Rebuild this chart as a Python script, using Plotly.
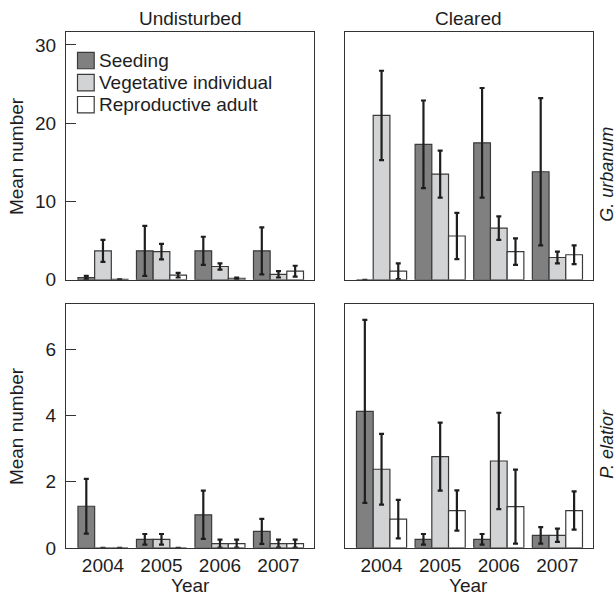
import plotly.graph_objects as go

years = ["2004", "2005", "2006", "2007"]
stages = ["Seeding", "Vegetative individual", "Reproductive adult"]

# G. urbanum, undisturbed
gu_und_seed = [0.3, 3.7, 3.7, 3.7]
gu_und_seed_err = [0.2, 3.2, 1.8, 3.0]
gu_und_veg = [3.7, 3.6, 1.7, 0.7]
gu_und_veg_err = [1.4, 1.0, 0.4, 0.4]
gu_und_rep = [0.05, 0.6, 0.2, 1.1]
gu_und_rep_err = [None, 0.3, 0.1, 0.7]

# G. urbanum, cleared
gu_clr_seed = [0.0, 17.3, 17.5, 13.8]
gu_clr_seed_err = [None, 5.6, 7.0, 9.4]
gu_clr_veg = [21.0, 13.5, 6.6, 2.85]
gu_clr_veg_err = [5.7, 3.0, 1.5, 0.75]
gu_clr_rep = [1.1, 5.6, 3.6, 3.2]
gu_clr_rep_err = [1.0, 2.95, 1.7, 1.2]

# P. elatior, undisturbed
pe_und_seed = [1.26, 0.26, 1.0, 0.5]
pe_und_seed_err = [0.83, 0.16, 0.73, 0.38]
pe_und_veg = [0.0, 0.26, 0.13, 0.13]
pe_und_veg_err = [None, 0.16, 0.12, 0.12]
pe_und_rep = [0.0, 0.0, 0.13, 0.13]
pe_und_rep_err = [None, None, 0.12, 0.12]

# P. elatior, cleared
pe_clr_seed = [4.13, 0.26, 0.26, 0.38]
pe_clr_seed_err = [2.77, 0.16, 0.16, 0.25]
pe_clr_veg = [2.38, 2.76, 2.63, 0.38]
pe_clr_veg_err = [1.07, 1.03, 1.46, 0.2]
pe_clr_rep = [0.87, 1.13, 1.25, 1.13]
pe_clr_rep_err = [0.58, 0.61, 1.12, 0.58]

colors = ["#808080", "#d2d3d5", "#ffffff"]
outline = "#3a3a3a"
ink = "#1e1e1e"
FONT = "Liberation Sans, Arial, sans-serif"
FS = 19

panels = [
    ("x", "y", [gu_und_seed, gu_und_veg, gu_und_rep], [gu_und_seed_err, gu_und_veg_err, gu_und_rep_err]),
    ("x2", "y2", [gu_clr_seed, gu_clr_veg, gu_clr_rep], [gu_clr_seed_err, gu_clr_veg_err, gu_clr_rep_err]),
    ("x3", "y3", [pe_und_seed, pe_und_veg, pe_und_rep], [pe_und_seed_err, pe_und_veg_err, pe_und_rep_err]),
    ("x4", "y4", [pe_clr_seed, pe_clr_veg, pe_clr_rep], [pe_clr_seed_err, pe_clr_veg_err, pe_clr_rep_err]),
]

fig = go.Figure()
for xa, ya, vals, errs in panels:
    for i in range(3):
        fig.add_trace(go.Bar(
            x=years, y=vals[i], name=stages[i], xaxis=xa, yaxis=ya,
            showlegend=False,
            marker=dict(color=colors[i], line=dict(color=outline, width=1.2)),
            error_y=dict(type="data", array=errs[i], visible=True,
                         color=ink, thickness=2.2, width=2.5),
        ))

W, H = 616, 606
def px_x(a, b):
    return [a / W, b / W]
def px_y(top, bot):
    return [1 - bot / H, 1 - top / H]

xr = [-0.632, 3.607]
ax_common = dict(showline=True, mirror=True, linecolor="#333333", linewidth=1.3,
                 showgrid=False, zeroline=False, fixedrange=True)
tickfont = dict(family=FONT, size=FS, color=ink)

layout = dict(
    width=W, height=H, margin=dict(l=0, r=0, t=0, b=0),
    paper_bgcolor="white", plot_bgcolor="white",
    barmode="group", bargap=0.145, bargroupgap=0,
    font=dict(family=FONT, size=FS, color=ink),
    showlegend=False,
)
for n, (xd, yd, show_xt, show_yt) in enumerate([
    (px_x(66, 314), px_y(33, 285), False, True),
    (px_x(344.5, 593), px_y(33, 285), False, False),
    (px_x(66, 314), px_y(310, 558), True, True),
    (px_x(344.5, 593), px_y(310, 558), True, False),
], start=1):
    sx = "" if n == 1 else str(n)
    layout["xaxis" + sx] = dict(ax_common, domain=xd, range=xr, anchor="y" + sx,
                                showticklabels=show_xt, ticks="", tickfont=tickfont,
                                type="category")
    yrange = [0, 31.6] if n <= 2 else [0, 7.37]
    ytick = [0, 10, 20, 30] if n <= 2 else [0, 2, 4, 6]
    layout["yaxis" + sx] = dict(ax_common, domain=yd, range=yrange, anchor="x" + sx,
                                tickvals=ytick, showticklabels=show_yt,
                                ticks="inside" if show_yt else "", ticklen=10,
                                ticklabelstandoff=5,
                                tickwidth=1.3, tickcolor="#333333", tickfont=tickfont)
fig.update_layout(**layout)

# legend (drawn inside the top-left panel)
leg_x0, leg_top, sw, step = 77.5, 53.3, 16.7, 22.5
for i, name in enumerate(stages):
    top = leg_top + i * step
    fig.add_shape(type="rect", xref="paper", yref="paper",
                  x0=leg_x0 / W, x1=(leg_x0 + sw) / W,
                  y0=1 - (top + sw) / H, y1=1 - top / H,
                  fillcolor=colors[i], line=dict(color=outline, width=1.2))
    fig.add_annotation(xref="paper", yref="paper", showarrow=False,
                       x=(leg_x0 + sw + 3) / W, y=1 - (top + sw / 2) / H,
                       xanchor="left", yanchor="middle", text=name,
                       font=dict(family=FONT, size=FS, color=ink))

annots = [
    dict(text="Undisturbed", x=190 / W, y=1 - 19 / H),
    dict(text="Cleared", x=468.5 / W, y=1 - 19 / H),
    dict(text="Mean number", x=16 / W, y=1 - 159 / H, textangle=-90),
    dict(text="Mean number", x=16 / W, y=1 - 434 / H, textangle=-90),
    dict(text="Year", x=190 / W, y=1 - 596 / H),
    dict(text="Year", x=468.5 / W, y=1 - 596 / H),
]
for a in annots:
    fig.add_annotation(xref="paper", yref="paper", showarrow=False,
                       xanchor="center", yanchor="middle",
                       font=dict(family=FONT, size=FS, color=ink), **a)
for txt, yc in [("<i>G. urbanum</i>", 178), ("<i>P. elatior</i>", 452)]:
    fig.add_annotation(xref="paper", yref="paper", showarrow=False,
                       x=607 / W, y=1 - yc / H, xanchor="center", yanchor="middle",
                       textangle=-90, text=txt, borderpad=0,
                       font=dict(family=FONT, size=18, color=ink))

fig.write_html(
    "out.html",
    config={"displayModeBar": False},
    post_script="document.body.style.margin='0';document.body.style.padding='0';"
                "document.documentElement.style.overflow='hidden';",
)
